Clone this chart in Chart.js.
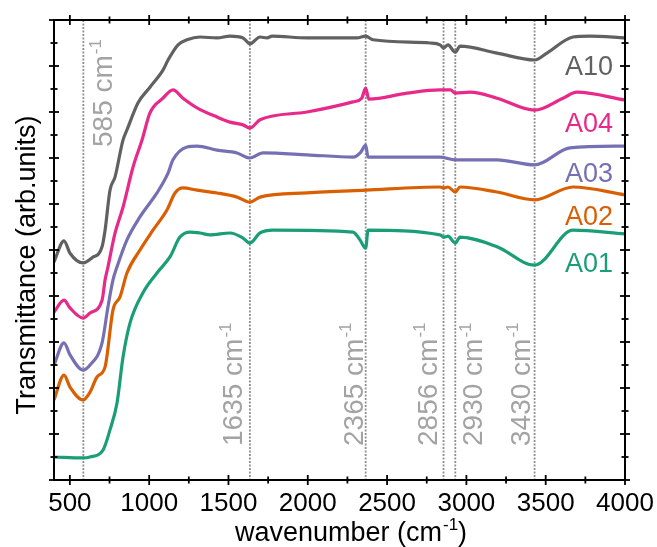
<!DOCTYPE html>
<html>
<head>
<meta charset="utf-8">
<script src="https://cdn.jsdelivr.net/npm/chart.js@4"></script>
<style>
  body { margin: 0; background: #fff; }
  #wrap { width: 657px; height: 547px; }
</style>
</head>
<body>
<div id="wrap"><canvas id="ftir" width="657" height="547"></canvas></div>
<script>
// FTIR spectra, offset in arbitrary units (0-10)

const seriesNames = ['A10', 'A04', 'A03', 'A02', 'A01'];
const seriesColors = ['#616161', '#e7298a', '#7570b3', '#d95f02', '#1b9e77'];

const a10Wn = [400, 463, 501, 583, 640, 703, 722, 753, 785, 835, 860, 930, 1005, 1087, 1119, 1182, 1239, 1320, 1428, 1510, 1592, 1635, 1699, 1743, 1775, 1995, 2310, 2365, 2411, 2771, 2834, 2856, 2884, 2930, 2960, 3193, 3430, 3508, 3672, 3779, 4000];
const a10T  = [4.74, 5.20, 4.93, 4.72, 4.83, 5.07, 5.43, 6.30, 6.59, 7.39, 7.61, 8.20, 8.54, 8.91, 9.13, 9.46, 9.57, 9.63, 9.61, 9.65, 9.61, 9.48, 9.63, 9.61, 9.65, 9.61, 9.61, 9.65, 9.57, 9.50, 9.46, 9.39, 9.46, 9.30, 9.43, 9.28, 9.13, 9.28, 9.63, 9.65, 9.61];

const a04Wn = [400, 463, 501, 583, 627, 703, 722, 740, 785, 835, 898, 955, 1005, 1087, 1150, 1213, 1302, 1428, 1510, 1592, 1635, 1699, 1995, 2285, 2340, 2365, 2385, 2626, 2834, 2900, 2930, 3023, 3193, 3430, 3609, 3697, 4000];
const a04T  = [3.65, 3.91, 3.74, 3.52, 3.63, 3.91, 4.35, 4.63, 5.37, 5.93, 6.80, 7.39, 7.98, 8.30, 8.48, 8.30, 8.09, 7.89, 7.78, 7.72, 7.65, 7.83, 8.00, 8.22, 8.30, 8.52, 8.28, 8.41, 8.48, 8.48, 8.41, 8.43, 8.30, 8.04, 8.30, 8.43, 8.26];

const a03Wn = [400, 463, 501, 583, 627, 703, 740, 772, 797, 860, 942, 1049, 1119, 1150, 1239, 1302, 1428, 1554, 1635, 1718, 1995, 2285, 2335, 2365, 2380, 2834, 2930, 3193, 3430, 3653, 4000];
const a03T  = [2.50, 2.98, 2.72, 2.39, 2.50, 2.98, 3.76, 4.35, 4.63, 5.22, 5.72, 6.24, 6.67, 6.96, 7.24, 7.26, 7.17, 7.11, 7.00, 7.11, 7.07, 7.02, 7.13, 7.28, 7.02, 7.02, 6.96, 6.96, 6.85, 7.22, 7.26];

const a02Wn = [400, 463, 501, 583, 627, 671, 722, 772, 816, 860, 942, 1024, 1112, 1163, 1213, 1302, 1428, 1554, 1635, 1699, 1995, 2365, 2834, 2856, 2884, 2930, 2960, 3193, 3430, 3672, 4000];
const a02T  = [1.74, 2.28, 2.02, 1.74, 1.91, 2.24, 2.46, 3.70, 3.98, 4.50, 5.00, 5.43, 5.87, 6.24, 6.35, 6.30, 6.24, 6.15, 6.04, 6.15, 6.24, 6.30, 6.37, 6.35, 6.37, 6.26, 6.37, 6.26, 6.09, 6.37, 6.20];

const a01Wn = [400, 583, 627, 709, 753, 797, 835, 879, 961, 1049, 1131, 1194, 1258, 1320, 1384, 1510, 1592, 1635, 1699, 1781, 2285, 2329, 2365, 2380, 2834, 2856, 2884, 2930, 2960, 3193, 3430, 3672, 4000];
const a01T  = [0.50, 0.48, 0.50, 0.65, 1.09, 1.67, 2.67, 3.41, 4.07, 4.50, 4.85, 5.28, 5.39, 5.37, 5.33, 5.37, 5.26, 5.15, 5.37, 5.43, 5.39, 5.22, 5.04, 5.43, 5.33, 5.28, 5.30, 5.15, 5.28, 5.07, 4.67, 5.43, 5.35];

// marked bands (cm-1)
const peakWn = [585, 1635, 2365, 2856, 2930, 3430];

// axis ticks
const xTickLabels = [500, 1000, 1500, 2000, 2500, 3000, 3500, 4000];
const xMinorTicks = [750, 1250, 1750, 2250, 2750, 3250, 3750];
const yMajorTicks = [0, 1, 2, 3, 4, 5, 6, 7, 8, 9, 10];
const yMinorTicks = [0.5, 1.5, 2.5, 3.5, 4.5, 5.5, 6.5, 7.5, 8.5, 9.5];

// where the series names sit (axis units)
const nameLevels = [8.80, 7.57, 6.48, 5.54, 4.52];

const FONT = '"Liberation Sans", Arial, sans-serif';

function pts(wn, t) {
    return wn.map((w, i) => ({ x: w, y: t[i] }));
}

// text with a superscript, optionally rotated
function supText(ctx, x, y, angle, main, sup, tail, size, align) {
    ctx.save();
    ctx.translate(x, y);
    ctx.rotate(angle);
    ctx.textBaseline = 'alphabetic';
    ctx.textAlign = 'left';
    ctx.font = size + 'px ' + FONT;
    const w1 = ctx.measureText(main).width;
    ctx.font = Math.round(size * 0.62) + 'px ' + FONT;
    const w2 = ctx.measureText(sup).width;
    ctx.font = size + 'px ' + FONT;
    const w3 = tail ? ctx.measureText(tail).width : 0;
    const start = align === 'center' ? -(w1 + w2 + w3 + 1) / 2 : 0;
    ctx.fillText(main, start, 0);
    ctx.font = Math.round(size * 0.62) + 'px ' + FONT;
    ctx.fillText(sup, start + w1 + 1, -size * 0.40);
    if (tail) {
        ctx.font = size + 'px ' + FONT;
        ctx.fillText(tail, start + w1 + w2 + 1, 0);
    }
    ctx.restore();
}

const peakOffset = [29, -8, -3, -7, 27, -5];

const decor = {
    id: 'decor',
    beforeDatasetsDraw(chart) {
        const { ctx, chartArea: a, scales: { x } } = chart;
        ctx.save();
        ctx.strokeStyle = '#8f8f8f';
        ctx.lineWidth = 1.8;
        ctx.setLineDash([2, 1.5]);
        peakWn.forEach(w => {
            const px = x.getPixelForValue(w);
            ctx.beginPath();
            ctx.moveTo(px, a.top);
            ctx.lineTo(px, a.bottom);
            ctx.stroke();
        });
        ctx.setLineDash([]);
        ctx.fillStyle = '#a3a3a3';
        peakWn.forEach((w, i) => {
            const px = x.getPixelForValue(w) + peakOffset[i];
            const py = i === 0 ? 147 : 446;
            supText(ctx, px, py, -Math.PI / 2, w + ' cm', '-1', '', 28, 'left');
        });
        ctx.restore();
    },
    afterDraw(chart) {
        const { ctx, chartArea: a, scales: { x, y } } = chart;
        ctx.save();
        // frame
        ctx.strokeStyle = '#000';
        ctx.lineWidth = 2;
        ctx.strokeRect(a.left, a.top, a.right - a.left, a.bottom - a.top);
        // ticks crossing the frame
        ctx.lineWidth = 1.8;
        const tick = (x1, y1, x2, y2) => {
            ctx.beginPath(); ctx.moveTo(x1, y1); ctx.lineTo(x2, y2); ctx.stroke();
        };
        xTickLabels.forEach(v => {
            const px = x.getPixelForValue(v);
            tick(px, a.bottom - 5, px, a.bottom + 5);
            tick(px, a.top - 5, px, a.top + 5);
        });
        xMinorTicks.forEach(v => {
            const px = x.getPixelForValue(v);
            tick(px, a.bottom - 3.5, px, a.bottom + 3.5);
            tick(px, a.top - 3.5, px, a.top + 3.5);
        });
        yMajorTicks.forEach(v => {
            const py = y.getPixelForValue(v);
            tick(a.left - 5, py, a.left + 5, py);
            tick(a.right - 5, py, a.right + 5, py);
        });
        yMinorTicks.forEach(v => {
            const py = y.getPixelForValue(v);
            tick(a.left - 3.5, py, a.left + 3.5, py);
            tick(a.right - 3.5, py, a.right + 3.5, py);
        });
        // series names
        ctx.font = '27px ' + FONT;
        ctx.textAlign = 'right';
        ctx.textBaseline = 'alphabetic';
        seriesNames.forEach((n, i) => {
            ctx.fillStyle = seriesColors[i];
            ctx.fillText(n, a.right - 12, y.getPixelForValue(nameLevels[i]));
        });
        // axis titles
        ctx.fillStyle = '#000';
        supText(ctx, 351, 541, 0, 'wavenumber (cm', '-1', ')', 27, 'center');
        ctx.save();
        ctx.translate(35, 265);
        ctx.rotate(-Math.PI / 2);
        ctx.font = '27px ' + FONT;
        ctx.textAlign = 'center';
        ctx.fillText('Transmittance (arb.units)', 0, 0);
        ctx.restore();
        ctx.restore();
    }
};

const datasets = [a10Wn, a04Wn, a03Wn, a02Wn, a01Wn].map((wn, i) => ({
    label: seriesNames[i],
    data: pts(wn, [a10T, a04T, a03T, a02T, a01T][i]),
    borderColor: seriesColors[i],
    backgroundColor: seriesColors[i],
    borderWidth: 3.2,
    pointRadius: 0,
    cubicInterpolationMode: 'monotone'
}));

new Chart(document.getElementById('ftir'), {
    type: 'line',
    data: { datasets: datasets },
    options: {
        responsive: false,
        animation: false,
        devicePixelRatio: 1,
        layout: { padding: { top: 20, right: 32, left: 0, bottom: 0 } },
        plugins: { legend: { display: false }, tooltip: { enabled: false } },
        scales: {
            x: {
                type: 'linear',
                min: 400,
                max: 4000,
                grid: { display: false, drawTicks: false },
                border: { display: false },
                afterBuildTicks: s => { s.ticks = xTickLabels.map(v => ({ value: v })); },
                afterFit: s => { s.height = 67; s.paddingLeft = 0; s.paddingRight = 0; },
                ticks: {
                    autoSkip: false,
                    maxRotation: 0,
                    padding: 8,
                    color: '#000',
                    font: { family: FONT, size: 26 },
                    callback: v => String(v)
                }
            },
            y: {
                min: 0,
                max: 10,
                grid: { display: false, drawTicks: false },
                border: { display: false },
                ticks: { display: false },
                afterFit: s => { s.width = 54; s.paddingTop = 0; s.paddingBottom = 0; }
            }
        }
    },
    plugins: [decor]
});
</script>
</body>
</html>
